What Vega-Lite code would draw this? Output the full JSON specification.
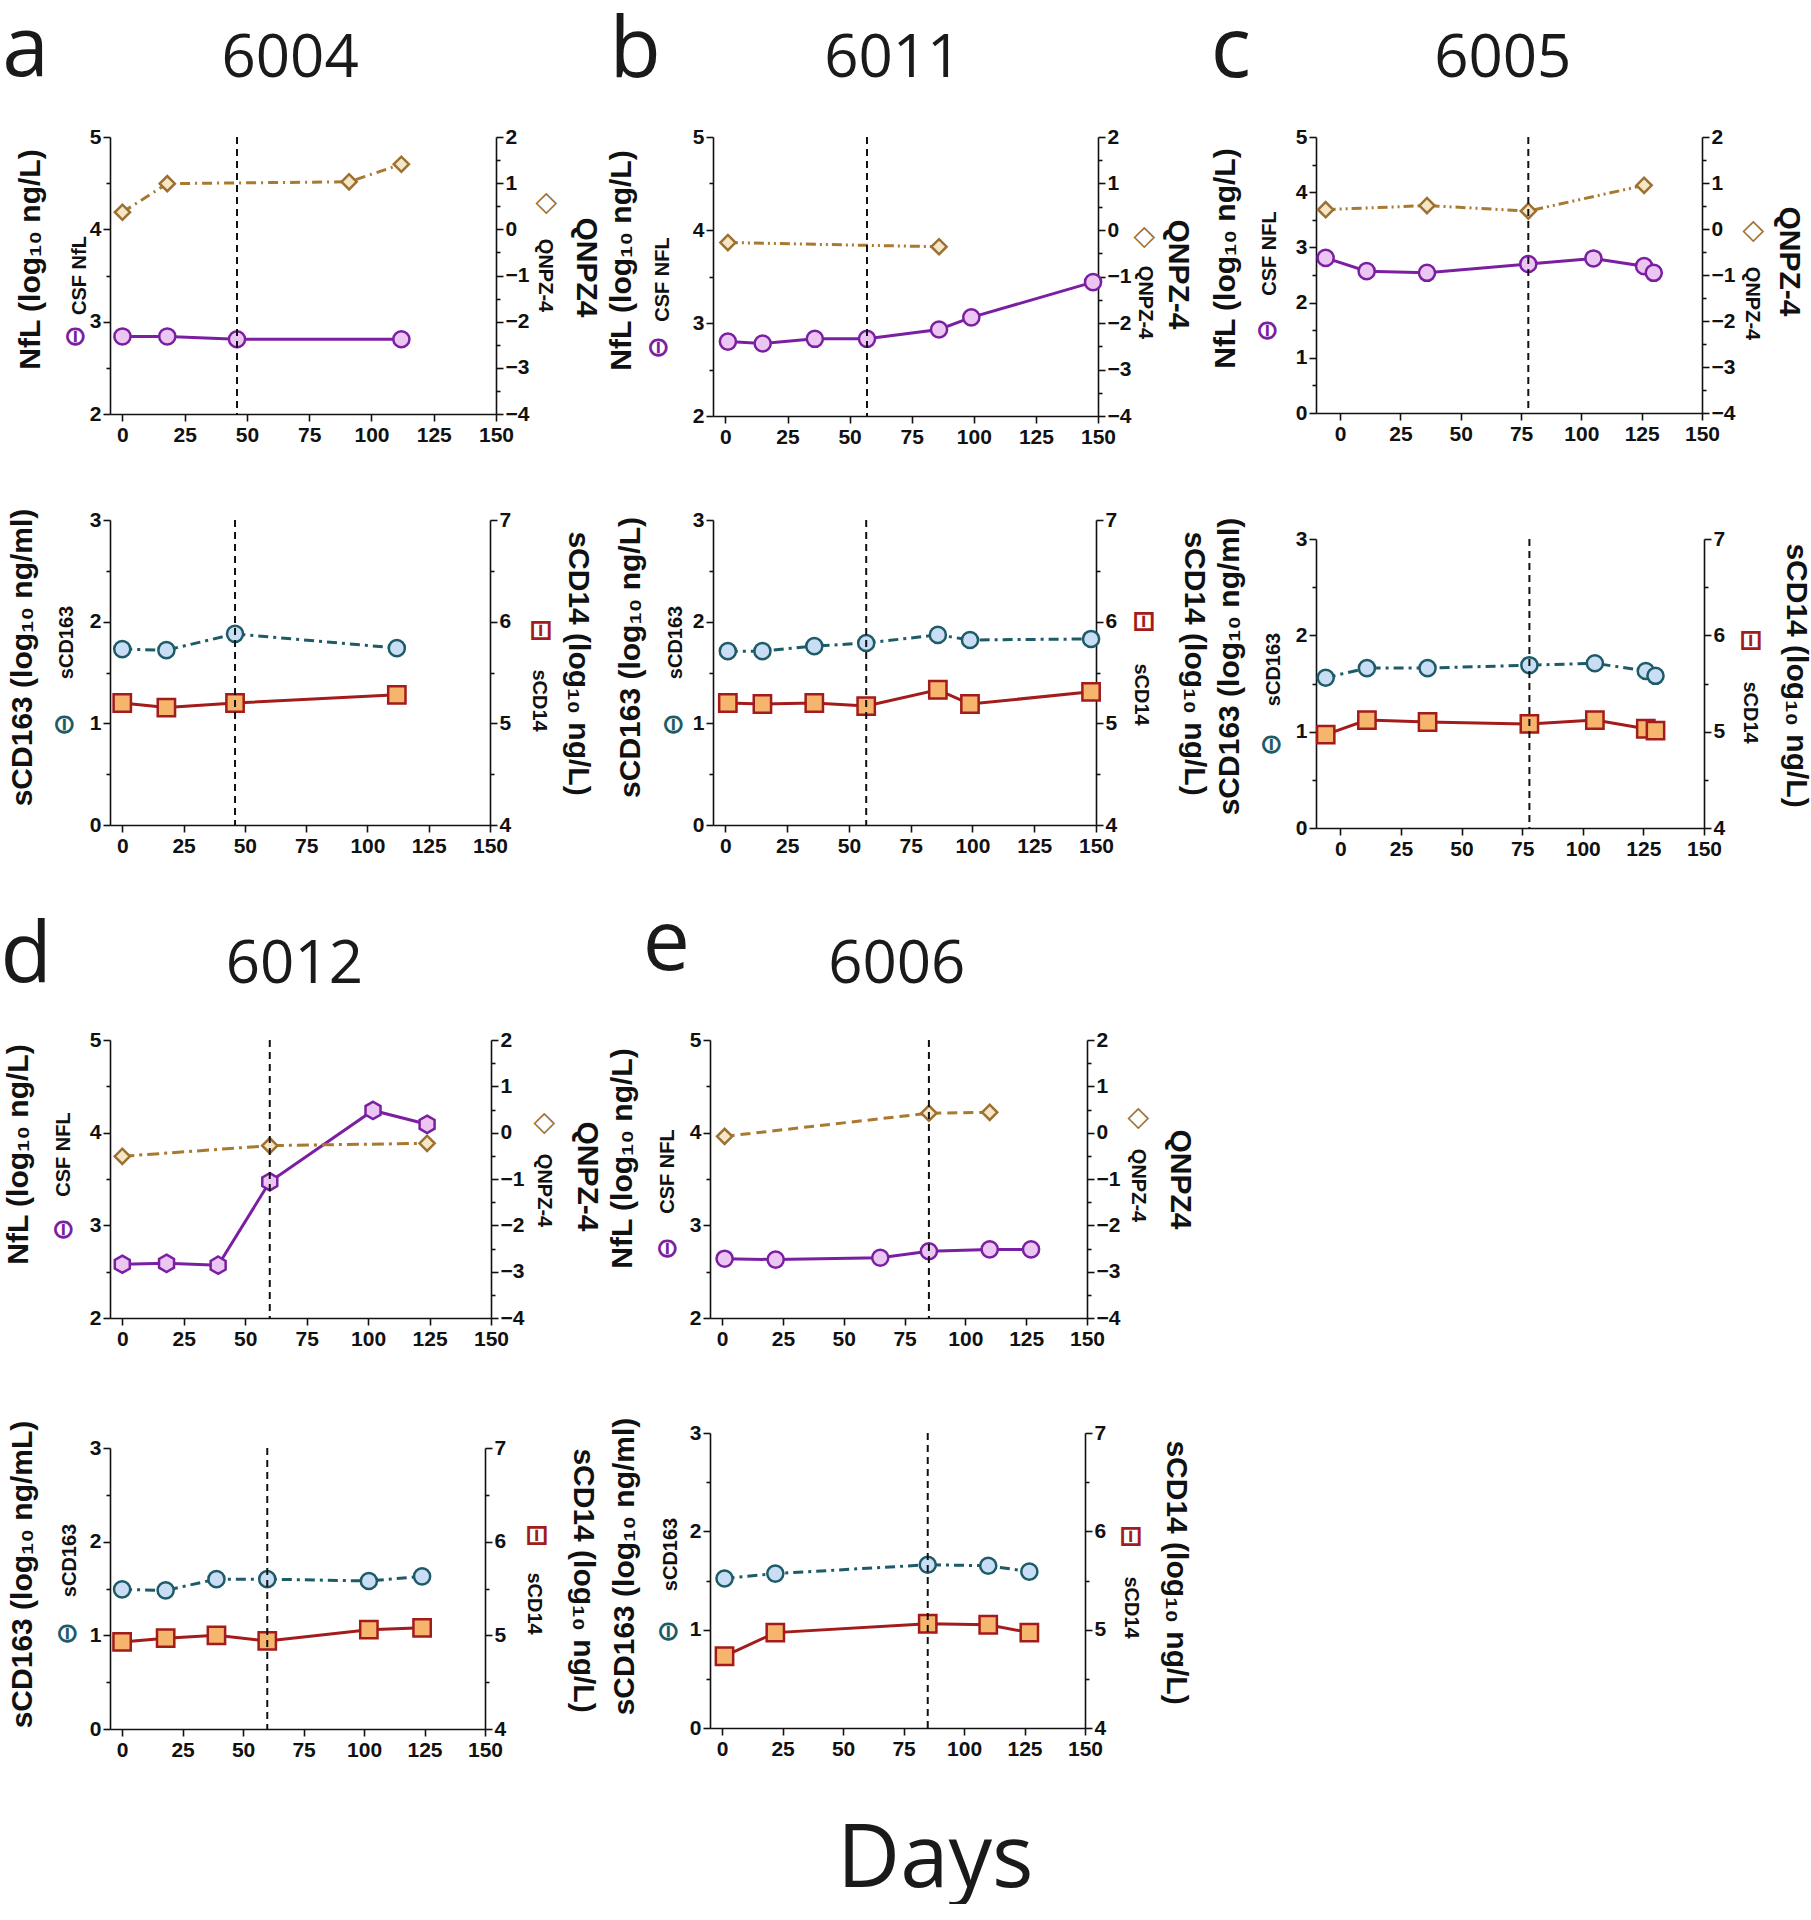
{
"$schema":"https://vega.github.io/schema/vega-lite/v6.json",
"background":"white",
"padding":{"left":0,"top":9,"right":0,"bottom":0},
"datasets":{
"pts":[
{"pid":"6004","m":"NfL","day":0,"v":2.84},{"pid":"6004","m":"NfL","day":18,"v":2.84},{"pid":"6004","m":"NfL","day":46,"v":2.81},{"pid":"6004","m":"NfL","day":112,"v":2.81},
{"pid":"6004","m":"QNPZ4","day":0,"v":0.37},{"pid":"6004","m":"QNPZ4","day":18,"v":0.99},{"pid":"6004","m":"QNPZ4","day":91,"v":1.03},{"pid":"6004","m":"QNPZ4","day":112,"v":1.41},
{"pid":"6004","m":"sCD163","day":0,"v":1.73},{"pid":"6004","m":"sCD163","day":18,"v":1.72},{"pid":"6004","m":"sCD163","day":46,"v":1.88},{"pid":"6004","m":"sCD163","day":112,"v":1.74},
{"pid":"6004","m":"sCD14","day":0,"v":5.2},{"pid":"6004","m":"sCD14","day":18,"v":5.155},{"pid":"6004","m":"sCD14","day":46,"v":5.2},{"pid":"6004","m":"sCD14","day":112,"v":5.28},
{"pid":"6011","m":"NfL","day":1,"v":2.8},{"pid":"6011","m":"NfL","day":15,"v":2.78},{"pid":"6011","m":"NfL","day":36,"v":2.83},{"pid":"6011","m":"NfL","day":57,"v":2.83},{"pid":"6011","m":"NfL","day":86,"v":2.93},{"pid":"6011","m":"NfL","day":99,"v":3.06},{"pid":"6011","m":"NfL","day":148,"v":3.44},
{"pid":"6011","m":"QNPZ4","day":1,"v":-0.27},{"pid":"6011","m":"QNPZ4","day":86,"v":-0.36},
{"pid":"6011","m":"sCD163","day":1,"v":1.71},{"pid":"6011","m":"sCD163","day":15,"v":1.71},{"pid":"6011","m":"sCD163","day":36,"v":1.76},{"pid":"6011","m":"sCD163","day":57,"v":1.79},{"pid":"6011","m":"sCD163","day":86,"v":1.87},{"pid":"6011","m":"sCD163","day":99,"v":1.82},{"pid":"6011","m":"sCD163","day":148,"v":1.83},
{"pid":"6011","m":"sCD14","day":1,"v":5.2},{"pid":"6011","m":"sCD14","day":15,"v":5.19},{"pid":"6011","m":"sCD14","day":36,"v":5.2},{"pid":"6011","m":"sCD14","day":57,"v":5.17},{"pid":"6011","m":"sCD14","day":86,"v":5.33},{"pid":"6011","m":"sCD14","day":99,"v":5.19},{"pid":"6011","m":"sCD14","day":148,"v":5.31},
{"pid":"6005","m":"NfL","day":-6,"v":2.81},{"pid":"6005","m":"NfL","day":11,"v":2.57},{"pid":"6005","m":"NfL","day":36,"v":2.54},{"pid":"6005","m":"NfL","day":78,"v":2.7},{"pid":"6005","m":"NfL","day":105,"v":2.8},{"pid":"6005","m":"NfL","day":126,"v":2.66},{"pid":"6005","m":"NfL","day":130,"v":2.54},
{"pid":"6005","m":"QNPZ4","day":-6,"v":0.42},{"pid":"6005","m":"QNPZ4","day":36,"v":0.51},{"pid":"6005","m":"QNPZ4","day":78,"v":0.39},{"pid":"6005","m":"QNPZ4","day":126,"v":0.95},
{"pid":"6005","m":"sCD163","day":-6,"v":1.56},{"pid":"6005","m":"sCD163","day":11,"v":1.66},{"pid":"6005","m":"sCD163","day":36,"v":1.66},{"pid":"6005","m":"sCD163","day":78,"v":1.69},{"pid":"6005","m":"sCD163","day":105,"v":1.71},{"pid":"6005","m":"sCD163","day":126,"v":1.63},{"pid":"6005","m":"sCD163","day":130,"v":1.58},
{"pid":"6005","m":"sCD14","day":-6,"v":4.97},{"pid":"6005","m":"sCD14","day":11,"v":5.12},{"pid":"6005","m":"sCD14","day":36,"v":5.1},{"pid":"6005","m":"sCD14","day":78,"v":5.08},{"pid":"6005","m":"sCD14","day":105,"v":5.12},{"pid":"6005","m":"sCD14","day":126,"v":5.03},{"pid":"6005","m":"sCD14","day":130,"v":5.01},
{"pid":"6012","m":"NfL","day":0,"v":2.58},{"pid":"6012","m":"NfL","day":18,"v":2.59},{"pid":"6012","m":"NfL","day":39,"v":2.57},{"pid":"6012","m":"NfL","day":60,"v":3.47},{"pid":"6012","m":"NfL","day":102,"v":4.24},{"pid":"6012","m":"NfL","day":124,"v":4.09},
{"pid":"6012","m":"QNPZ4","day":0,"v":-0.51},{"pid":"6012","m":"QNPZ4","day":60,"v":-0.28},{"pid":"6012","m":"QNPZ4","day":124,"v":-0.23},
{"pid":"6012","m":"sCD163","day":0,"v":1.49},{"pid":"6012","m":"sCD163","day":18,"v":1.48},{"pid":"6012","m":"sCD163","day":39,"v":1.6},{"pid":"6012","m":"sCD163","day":60,"v":1.6},{"pid":"6012","m":"sCD163","day":102,"v":1.58},{"pid":"6012","m":"sCD163","day":124,"v":1.63},
{"pid":"6012","m":"sCD14","day":0,"v":4.93},{"pid":"6012","m":"sCD14","day":18,"v":4.97},{"pid":"6012","m":"sCD14","day":39,"v":5.0},{"pid":"6012","m":"sCD14","day":60,"v":4.94},{"pid":"6012","m":"sCD14","day":102,"v":5.06},{"pid":"6012","m":"sCD14","day":124,"v":5.08},
{"pid":"6006","m":"NfL","day":1,"v":2.64},{"pid":"6006","m":"NfL","day":22,"v":2.63},{"pid":"6006","m":"NfL","day":65,"v":2.65},{"pid":"6006","m":"NfL","day":85,"v":2.72},{"pid":"6006","m":"NfL","day":110,"v":2.74},{"pid":"6006","m":"NfL","day":127,"v":2.74},
{"pid":"6006","m":"QNPZ4","day":1,"v":-0.08},{"pid":"6006","m":"QNPZ4","day":85,"v":0.42},{"pid":"6006","m":"QNPZ4","day":110,"v":0.44},
{"pid":"6006","m":"sCD163","day":1,"v":1.52},{"pid":"6006","m":"sCD163","day":22,"v":1.57},{"pid":"6006","m":"sCD163","day":85,"v":1.66},{"pid":"6006","m":"sCD163","day":110,"v":1.65},{"pid":"6006","m":"sCD163","day":127,"v":1.59},
{"pid":"6006","m":"sCD14","day":1,"v":4.73},{"pid":"6006","m":"sCD14","day":22,"v":4.97},{"pid":"6006","m":"sCD14","day":85,"v":5.06},{"pid":"6006","m":"sCD14","day":110,"v":5.05},{"pid":"6006","m":"sCD14","day":127,"v":4.97}
],
"ev":[{"pid":"6004","day":46},{"pid":"6011","day":57},{"pid":"6005","day":78},{"pid":"6012","day":60},{"pid":"6006","day":85}]
},
"title":{"text":"Days","orient":"bottom","anchor":"middle","frame":"bounds","offset":127,"dx":30,"baseline":"alphabetic","font":"Open Sans","fontSize":87,"fontWeight":"normal","color":"#1a1a1a"},
"bounds":"flush",
"spacing":903,
"vconcat":[
{"hconcat":[
{"title":{"text":"6004","orient":"left","anchor":"end","frame":"group","angle":0,"align":"center","baseline":"alphabetic","offset":-425,"dy":-60,"font":"Open Sans","fontSize":60,"fontWeight":"normal","color":"#1a1a1a"},
 "bounds":"flush","spacing":106,
 "vconcat":[
 {"width":386,"height":277,
  "title":{"text":"a","orient":"left","anchor":"end","frame":"group","angle":0,"align":"left","baseline":"alphabetic","offset":-34,"dy":-61,"font":"Open Sans","fontSize":84,"fontWeight":"normal","color":"#1a1a1a"},
  "encoding":{"x":{"field":"day","type":"quantitative","scale":{"domain":[-5,150],"nice":false,"zero":false},"axis":{"values":[0,25,50,75,100,125,150],"title":null}}},
  "layer":[
   {"data":{"name":"pts"},"transform":[{"filter":"datum.pid==='6004'&&datum.m==='NfL'"}],
    "mark":{"type":"line","color":"#7B1FA2","strokeWidth":3,"point":{"filled":true,"shape":"circle","size":260,"fill":"#EBC6F3","stroke":"#7B1FA2","strokeWidth":2.5}},
    "encoding":{"y":{"field":"v","type":"quantitative","scale":{"domain":[2,5],"nice":false,"zero":false},"axis":{"orient":"left","values":[2,2.5,3,3.5,4,4.5,5],"labelExpr":"datum.value % 1 === 0 ? format(datum.value, 'd') : ''","tickSize":{"condition":{"test":"datum.value % 1 !== 0","value":4},"value":7},"title":"⊖","titleColor":"#7B1FA2","titleFont":"DejaVu Sans","titleFontWeight":"bold","titleFontSize":28,"titleY":199,"titlePadding":0}}}},
   {"data":{"name":"pts"},"transform":[{"filter":"datum.pid==='6004'&&datum.m==='QNPZ4'"}],
    "mark":{"type":"line","color":"#A8792E","strokeWidth":3,"strokeDash":[10,5,2,5],"point":{"filled":true,"shape":"diamond","size":230,"fill":"#F4E6C6","stroke":"#9C7030","strokeWidth":2.5}},
    "encoding":{"y":{"field":"v","type":"quantitative","scale":{"domain":[-4,2],"nice":false,"zero":false},"axis":{"orient":"right","values":[-4,-3.5,-3,-2.5,-2,-1.5,-1,-0.5,0,0.5,1,1.5,2],"labelExpr":"datum.value % 1 === 0 ? format(datum.value, 'd') : ''","tickSize":{"condition":{"test":"datum.value % 1 !== 0","value":4},"value":7},"title":"◇","titleColor":"#9C7030","titleFont":"DejaVu Sans","titleFontWeight":"bold","titleFontSize":28,"titleY":66,"titlePadding":4}}}},
   {"data":{"name":"ev"},"transform":[{"filter":"datum.pid==='6004'"}],"mark":{"type":"rule","color":"#111111","strokeWidth":2,"strokeDash":[7,5]},"encoding":{}},
   {"data":{"values":[{}]},"mark":{"type":"point","opacity":0},"encoding":{"y":{"datum":3,"type":"quantitative","scale":{"domain":[2,5]},"axis":{"orient":"left","domain":false,"ticks":false,"labels":false,"title":"NfL (log₁₀ ng/L)","titleFontSize":30,"titleY":122,"titlePadding":65}}}},
   {"data":{"values":[{}]},"mark":{"type":"point","opacity":0},"encoding":{"y":{"datum":3,"type":"quantitative","scale":{"domain":[2,5]},"axis":{"orient":"left","domain":false,"ticks":false,"labels":false,"title":"CSF NfL","titleFontSize":20,"titleY":138,"titlePadding":21}}}},
   {"data":{"values":[{}]},"mark":{"type":"point","opacity":0},"encoding":{"y":{"datum":0,"type":"quantitative","scale":{"domain":[-4,2]},"axis":{"orient":"right","domain":false,"ticks":false,"labels":false,"title":"QNPZ-4","titleFontSize":20,"titleY":138,"titlePadding":38}}}},
   {"data":{"values":[{}]},"mark":{"type":"point","opacity":0},"encoding":{"y":{"datum":0,"type":"quantitative","scale":{"domain":[-4,2]},"axis":{"orient":"right","domain":false,"ticks":false,"labels":false,"title":"QNPZ4","titleFontSize":30,"titleY":130,"titlePadding":74}}}}
  ],
  "resolve":{"scale":{"y":"independent"}}},
 {"width":380,"height":305,
  "encoding":{"x":{"field":"day","type":"quantitative","scale":{"domain":[-5,150],"nice":false,"zero":false},"axis":{"values":[0,25,50,75,100,125,150],"title":null}}},
  "layer":[
   {"data":{"name":"pts"},"transform":[{"filter":"datum.pid==='6004'&&datum.m==='sCD163'"}],
    "mark":{"type":"line","color":"#1D5B68","strokeWidth":3,"strokeDash":[10,5,3,5],"point":{"filled":true,"shape":"circle","size":260,"fill":"#C9DEF4","stroke":"#1D5B68","strokeWidth":2.5}},
    "encoding":{"y":{"field":"v","type":"quantitative","scale":{"domain":[0,3],"nice":false,"zero":false},"axis":{"orient":"left","values":[0,0.5,1,1.5,2,2.5,3],"labelExpr":"datum.value % 1 === 0 ? format(datum.value, 'd') : ''","tickSize":{"condition":{"test":"datum.value % 1 !== 0","value":4},"value":7},"title":"⊖","titleColor":"#1D5B68","titleFont":"DejaVu Sans","titleFontWeight":"bold","titleFontSize":28,"titleY":204,"titlePadding":11}}}},
   {"data":{"name":"pts"},"transform":[{"filter":"datum.pid==='6004'&&datum.m==='sCD14'"}],
    "mark":{"type":"line","color":"#A31B1B","strokeWidth":3,"point":{"filled":true,"shape":"square","size":300,"fill":"#F5B56C","stroke":"#A31B1B","strokeWidth":2.5}},
    "encoding":{"y":{"field":"v","type":"quantitative","scale":{"domain":[4,7],"nice":false,"zero":false},"axis":{"orient":"right","values":[4,4.5,5,5.5,6,6.5,7],"labelExpr":"datum.value % 1 === 0 ? format(datum.value, 'd') : ''","tickSize":{"condition":{"test":"datum.value % 1 !== 0","value":4},"value":7},"title":"⊟","titleColor":"#A31B1B","titleFont":"DejaVu Sans","titleFontWeight":"bold","titleFontSize":28,"titleY":110,"titlePadding":15}}}},
   {"data":{"name":"ev"},"transform":[{"filter":"datum.pid==='6004'"}],"mark":{"type":"rule","color":"#111111","strokeWidth":2,"strokeDash":[7,5]},"encoding":{}},
   {"data":{"values":[{}]},"mark":{"type":"point","opacity":0},"encoding":{"y":{"datum":1,"type":"quantitative","scale":{"domain":[0,3]},"axis":{"orient":"left","domain":false,"ticks":false,"labels":false,"title":"sCD163 (log₁₀ ng/ml)","titleFontSize":30,"titleY":137,"titlePadding":73}}}},
   {"data":{"values":[{}]},"mark":{"type":"point","opacity":0},"encoding":{"y":{"datum":1,"type":"quantitative","scale":{"domain":[0,3]},"axis":{"orient":"left","domain":false,"ticks":false,"labels":false,"title":"sCD163","titleFontSize":20,"titleY":122,"titlePadding":34}}}},
   {"data":{"values":[{}]},"mark":{"type":"point","opacity":0},"encoding":{"y":{"datum":5,"type":"quantitative","scale":{"domain":[4,7]},"axis":{"orient":"right","domain":false,"ticks":false,"labels":false,"title":"sCD14","titleFontSize":20,"titleY":180,"titlePadding":38}}}},
   {"data":{"values":[{}]},"mark":{"type":"point","opacity":0},"encoding":{"y":{"datum":5,"type":"quantitative","scale":{"domain":[4,7]},"axis":{"orient":"right","domain":false,"ticks":false,"labels":false,"title":"sCD14 (log₁₀ ng/L)","titleFontSize":30,"titleY":143,"titlePadding":72}}}}
  ],
  "resolve":{"scale":{"y":"independent"}}}
 ]},
{"title":{"text":"6011","orient":"left","anchor":"end","frame":"group","angle":0,"align":"center","baseline":"alphabetic","offset":-424,"dy":-60,"font":"Open Sans","fontSize":60,"fontWeight":"normal","color":"#1a1a1a"},
 "bounds":"flush","spacing":104,
 "vconcat":[
 {"width":385,"height":279,
  "title":{"text":"b","orient":"left","anchor":"end","frame":"group","angle":0,"align":"left","baseline":"alphabetic","offset":-55,"dy":-60,"font":"Open Sans","fontSize":84,"fontWeight":"normal","color":"#1a1a1a"},
  "encoding":{"x":{"field":"day","type":"quantitative","scale":{"domain":[-5,150],"nice":false,"zero":false},"axis":{"values":[0,25,50,75,100,125,150],"title":null}}},
  "layer":[
   {"data":{"name":"pts"},"transform":[{"filter":"datum.pid==='6011'&&datum.m==='NfL'"}],
    "mark":{"type":"line","color":"#7B1FA2","strokeWidth":3,"point":{"filled":true,"shape":"circle","size":260,"fill":"#EBC6F3","stroke":"#7B1FA2","strokeWidth":2.5}},
    "encoding":{"y":{"field":"v","type":"quantitative","scale":{"domain":[2,5],"nice":false,"zero":false},"axis":{"orient":"left","values":[2,2.5,3,3.5,4,4.5,5],"labelExpr":"datum.value % 1 === 0 ? format(datum.value, 'd') : ''","tickSize":{"condition":{"test":"datum.value % 1 !== 0","value":4},"value":7},"title":"⊖","titleColor":"#7B1FA2","titleFont":"DejaVu Sans","titleFontWeight":"bold","titleFontSize":28,"titleY":210,"titlePadding":20}}}},
   {"data":{"name":"pts"},"transform":[{"filter":"datum.pid==='6011'&&datum.m==='QNPZ4'"}],
    "mark":{"type":"line","color":"#A8792E","strokeWidth":3,"strokeDash":[10,4,2,4,2,4],"point":{"filled":true,"shape":"diamond","size":230,"fill":"#F4E6C6","stroke":"#9C7030","strokeWidth":2.5}},
    "encoding":{"y":{"field":"v","type":"quantitative","scale":{"domain":[-4,2],"nice":false,"zero":false},"axis":{"orient":"right","values":[-4,-3.5,-3,-2.5,-2,-1.5,-1,-0.5,0,0.5,1,1.5,2],"labelExpr":"datum.value % 1 === 0 ? format(datum.value, 'd') : ''","tickSize":{"condition":{"test":"datum.value % 1 !== 0","value":4},"value":7},"title":"◇","titleColor":"#9C7030","titleFont":"DejaVu Sans","titleFontWeight":"bold","titleFontSize":28,"titleY":100,"titlePadding":0}}}},
   {"data":{"name":"ev"},"transform":[{"filter":"datum.pid==='6011'"}],"mark":{"type":"rule","color":"#111111","strokeWidth":2,"strokeDash":[7,5]},"encoding":{}},
   {"data":{"values":[{}]},"mark":{"type":"point","opacity":0},"encoding":{"y":{"datum":3,"type":"quantitative","scale":{"domain":[2,5]},"axis":{"orient":"left","domain":false,"ticks":false,"labels":false,"title":"NfL (log₁₀ ng/L)","titleFontSize":30,"titleY":123,"titlePadding":77}}}},
   {"data":{"values":[{}]},"mark":{"type":"point","opacity":0},"encoding":{"y":{"datum":3,"type":"quantitative","scale":{"domain":[2,5]},"axis":{"orient":"left","domain":false,"ticks":false,"labels":false,"title":"CSF NFL","titleFontSize":20,"titleY":142,"titlePadding":41}}}},
   {"data":{"values":[{}]},"mark":{"type":"point","opacity":0},"encoding":{"y":{"datum":0,"type":"quantitative","scale":{"domain":[-4,2]},"axis":{"orient":"right","domain":false,"ticks":false,"labels":false,"title":"QNPZ-4","titleFontSize":20,"titleY":165,"titlePadding":36}}}},
   {"data":{"values":[{}]},"mark":{"type":"point","opacity":0},"encoding":{"y":{"datum":0,"type":"quantitative","scale":{"domain":[-4,2]},"axis":{"orient":"right","domain":false,"ticks":false,"labels":false,"title":"QNPZ-4","titleFontSize":30,"titleY":137,"titlePadding":64}}}}
  ],
  "resolve":{"scale":{"y":"independent"}}},
 {"width":383,"height":305,
  "encoding":{"x":{"field":"day","type":"quantitative","scale":{"domain":[-5,150],"nice":false,"zero":false},"axis":{"values":[0,25,50,75,100,125,150],"title":null}}},
  "layer":[
   {"data":{"name":"pts"},"transform":[{"filter":"datum.pid==='6011'&&datum.m==='sCD163'"}],
    "mark":{"type":"line","color":"#1D5B68","strokeWidth":3,"strokeDash":[10,5,3,5],"point":{"filled":true,"shape":"circle","size":260,"fill":"#C9DEF4","stroke":"#1D5B68","strokeWidth":2.5}},
    "encoding":{"y":{"field":"v","type":"quantitative","scale":{"domain":[0,3],"nice":false,"zero":false},"axis":{"orient":"left","values":[0,0.5,1,1.5,2,2.5,3],"labelExpr":"datum.value % 1 === 0 ? format(datum.value, 'd') : ''","tickSize":{"condition":{"test":"datum.value % 1 !== 0","value":4},"value":7},"title":"⊖","titleColor":"#1D5B68","titleFont":"DejaVu Sans","titleFontWeight":"bold","titleFontSize":28,"titleY":204,"titlePadding":5}}}},
   {"data":{"name":"pts"},"transform":[{"filter":"datum.pid==='6011'&&datum.m==='sCD14'"}],
    "mark":{"type":"line","color":"#A31B1B","strokeWidth":3,"point":{"filled":true,"shape":"square","size":300,"fill":"#F5B56C","stroke":"#A31B1B","strokeWidth":2.5}},
    "encoding":{"y":{"field":"v","type":"quantitative","scale":{"domain":[4,7],"nice":false,"zero":false},"axis":{"orient":"right","values":[4,4.5,5,5.5,6,6.5,7],"labelExpr":"datum.value % 1 === 0 ? format(datum.value, 'd') : ''","tickSize":{"condition":{"test":"datum.value % 1 !== 0","value":4},"value":7},"title":"⊟","titleColor":"#A31B1B","titleFont":"DejaVu Sans","titleFontWeight":"bold","titleFontSize":28,"titleY":101,"titlePadding":12}}}},
   {"data":{"name":"ev"},"transform":[{"filter":"datum.pid==='6011'"}],"mark":{"type":"rule","color":"#111111","strokeWidth":2,"strokeDash":[7,5]},"encoding":{}},
   {"data":{"values":[{}]},"mark":{"type":"point","opacity":0},"encoding":{"y":{"datum":1,"type":"quantitative","scale":{"domain":[0,3]},"axis":{"orient":"left","domain":false,"ticks":false,"labels":false,"title":"sCD163 (log₁₀ ng/L)","titleFontSize":30,"titleY":137,"titlePadding":68}}}},
   {"data":{"values":[{}]},"mark":{"type":"point","opacity":0},"encoding":{"y":{"datum":1,"type":"quantitative","scale":{"domain":[0,3]},"axis":{"orient":"left","domain":false,"ticks":false,"labels":false,"title":"sCD163","titleFontSize":20,"titleY":122,"titlePadding":28}}}},
   {"data":{"values":[{}]},"mark":{"type":"point","opacity":0},"encoding":{"y":{"datum":5,"type":"quantitative","scale":{"domain":[4,7]},"axis":{"orient":"right","domain":false,"ticks":false,"labels":false,"title":"sCD14","titleFontSize":20,"titleY":174,"titlePadding":34}}}},
   {"data":{"values":[{}]},"mark":{"type":"point","opacity":0},"encoding":{"y":{"datum":5,"type":"quantitative","scale":{"domain":[4,7]},"axis":{"orient":"right","domain":false,"ticks":false,"labels":false,"title":"sCD14 (log₁₀ ng/L)","titleFontSize":30,"titleY":143,"titlePadding":82}}}}
  ],
  "resolve":{"scale":{"y":"independent"}}}
 ]},
{"title":{"text":"6005","orient":"left","anchor":"end","frame":"group","angle":0,"align":"center","baseline":"alphabetic","offset":-430,"dy":-60,"font":"Open Sans","fontSize":60,"fontWeight":"normal","color":"#1a1a1a"},
 "bounds":"flush","spacing":126,
 "vconcat":[
 {"width":386,"height":276,
  "title":{"text":"c","orient":"left","anchor":"end","frame":"group","angle":0,"align":"left","baseline":"alphabetic","offset":-41,"dy":-60,"font":"Open Sans","fontSize":84,"fontWeight":"normal","color":"#1a1a1a"},
  "encoding":{"x":{"field":"day","type":"quantitative","scale":{"domain":[-10,150],"nice":false,"zero":false},"axis":{"values":[0,25,50,75,100,125,150],"title":null}}},
  "layer":[
   {"data":{"name":"pts"},"transform":[{"filter":"datum.pid==='6005'&&datum.m==='NfL'"}],
    "mark":{"type":"line","color":"#7B1FA2","strokeWidth":3,"point":{"filled":true,"shape":"circle","size":260,"fill":"#EBC6F3","stroke":"#7B1FA2","strokeWidth":2.5}},
    "encoding":{"y":{"field":"v","type":"quantitative","scale":{"domain":[0,5],"nice":false,"zero":false},"axis":{"orient":"left","values":[0,0.5,1,1.5,2,2.5,3,3.5,4,4.5,5],"labelExpr":"datum.value % 1 === 0 ? format(datum.value, 'd') : ''","tickSize":{"condition":{"test":"datum.value % 1 !== 0","value":4},"value":7},"title":"⊖","titleColor":"#7B1FA2","titleFont":"DejaVu Sans","titleFontWeight":"bold","titleFontSize":28,"titleY":193,"titlePadding":14}}}},
   {"data":{"name":"pts"},"transform":[{"filter":"datum.pid==='6005'&&datum.m==='QNPZ4'"}],
    "mark":{"type":"line","color":"#A8792E","strokeWidth":3,"strokeDash":[10,4,2,4,2,4],"point":{"filled":true,"shape":"diamond","size":230,"fill":"#F4E6C6","stroke":"#9C7030","strokeWidth":2.5}},
    "encoding":{"y":{"field":"v","type":"quantitative","scale":{"domain":[-4,2],"nice":false,"zero":false},"axis":{"orient":"right","values":[-4,-3.5,-3,-2.5,-2,-1.5,-1,-0.5,0,0.5,1,1.5,2],"labelExpr":"datum.value % 1 === 0 ? format(datum.value, 'd') : ''","tickSize":{"condition":{"test":"datum.value % 1 !== 0","value":4},"value":7},"title":"◇","titleColor":"#9C7030","titleFont":"DejaVu Sans","titleFontWeight":"bold","titleFontSize":28,"titleY":94,"titlePadding":5}}}},
   {"data":{"name":"ev"},"transform":[{"filter":"datum.pid==='6005'"}],"mark":{"type":"rule","color":"#111111","strokeWidth":2,"strokeDash":[7,5]},"encoding":{}},
   {"data":{"values":[{}]},"mark":{"type":"point","opacity":0},"encoding":{"y":{"datum":3,"type":"quantitative","scale":{"domain":[0,5]},"axis":{"orient":"left","domain":false,"ticks":false,"labels":false,"title":"NfL (log₁₀ ng/L)","titleFontSize":30,"titleY":121,"titlePadding":76}}}},
   {"data":{"values":[{}]},"mark":{"type":"point","opacity":0},"encoding":{"y":{"datum":3,"type":"quantitative","scale":{"domain":[0,5]},"axis":{"orient":"left","domain":false,"ticks":false,"labels":false,"title":"CSF NFL","titleFontSize":20,"titleY":116,"titlePadding":37}}}},
   {"data":{"values":[{}]},"mark":{"type":"point","opacity":0},"encoding":{"y":{"datum":0,"type":"quantitative","scale":{"domain":[-4,2]},"axis":{"orient":"right","domain":false,"ticks":false,"labels":false,"title":"QNPZ-4","titleFontSize":20,"titleY":166,"titlePadding":39}}}},
   {"data":{"values":[{}]},"mark":{"type":"point","opacity":0},"encoding":{"y":{"datum":0,"type":"quantitative","scale":{"domain":[-4,2]},"axis":{"orient":"right","domain":false,"ticks":false,"labels":false,"title":"QNPZ-4","titleFontSize":30,"titleY":124,"titlePadding":71}}}}
  ],
  "resolve":{"scale":{"y":"independent"}}},
 {"width":388,"height":289,
  "encoding":{"x":{"field":"day","type":"quantitative","scale":{"domain":[-10,150],"nice":false,"zero":false},"axis":{"values":[0,25,50,75,100,125,150],"title":null}}},
  "layer":[
   {"data":{"name":"pts"},"transform":[{"filter":"datum.pid==='6005'&&datum.m==='sCD163'"}],
    "mark":{"type":"line","color":"#1D5B68","strokeWidth":3,"strokeDash":[10,5,3,5],"point":{"filled":true,"shape":"circle","size":260,"fill":"#C9DEF4","stroke":"#1D5B68","strokeWidth":2.5}},
    "encoding":{"y":{"field":"v","type":"quantitative","scale":{"domain":[0,3],"nice":false,"zero":false},"axis":{"orient":"left","values":[0,0.5,1,1.5,2,2.5,3],"labelExpr":"datum.value % 1 === 0 ? format(datum.value, 'd') : ''","tickSize":{"condition":{"test":"datum.value % 1 !== 0","value":4},"value":7},"title":"⊖","titleColor":"#1D5B68","titleFont":"DejaVu Sans","titleFontWeight":"bold","titleFontSize":28,"titleY":205,"titlePadding":10}}}},
   {"data":{"name":"pts"},"transform":[{"filter":"datum.pid==='6005'&&datum.m==='sCD14'"}],
    "mark":{"type":"line","color":"#A31B1B","strokeWidth":3,"point":{"filled":true,"shape":"square","size":300,"fill":"#F5B56C","stroke":"#A31B1B","strokeWidth":2.5}},
    "encoding":{"y":{"field":"v","type":"quantitative","scale":{"domain":[4,7],"nice":false,"zero":false},"axis":{"orient":"right","values":[4,4.5,5,5.5,6,6.5,7],"labelExpr":"datum.value % 1 === 0 ? format(datum.value, 'd') : ''","tickSize":{"condition":{"test":"datum.value % 1 !== 0","value":4},"value":7},"title":"⊟","titleColor":"#A31B1B","titleFont":"DejaVu Sans","titleFontWeight":"bold","titleFontSize":28,"titleY":101,"titlePadding":11}}}},
   {"data":{"name":"ev"},"transform":[{"filter":"datum.pid==='6005'"}],"mark":{"type":"rule","color":"#111111","strokeWidth":2,"strokeDash":[7,5]},"encoding":{}},
   {"data":{"values":[{}]},"mark":{"type":"point","opacity":0},"encoding":{"y":{"datum":1,"type":"quantitative","scale":{"domain":[0,3]},"axis":{"orient":"left","domain":false,"ticks":false,"labels":false,"title":"sCD163 (log₁₀ ng/ml)","titleFontSize":30,"titleY":127,"titlePadding":72}}}},
   {"data":{"values":[{}]},"mark":{"type":"point","opacity":0},"encoding":{"y":{"datum":1,"type":"quantitative","scale":{"domain":[0,3]},"axis":{"orient":"left","domain":false,"ticks":false,"labels":false,"title":"sCD163","titleFontSize":20,"titleY":130,"titlePadding":33}}}},
   {"data":{"values":[{}]},"mark":{"type":"point","opacity":0},"encoding":{"y":{"datum":5,"type":"quantitative","scale":{"domain":[4,7]},"axis":{"orient":"right","domain":false,"ticks":false,"labels":false,"title":"sCD14","titleFontSize":20,"titleY":173,"titlePadding":35}}}},
   {"data":{"values":[{}]},"mark":{"type":"point","opacity":0},"encoding":{"y":{"datum":5,"type":"quantitative","scale":{"domain":[4,7]},"axis":{"orient":"right","domain":false,"ticks":false,"labels":false,"title":"sCD14 (log₁₀ ng/L)","titleFontSize":30,"titleY":136,"titlePadding":76}}}}
  ],
  "resolve":{"scale":{"y":"independent"}}}
 ]}
],"spacing":603,"bounds":"flush"},
{"hconcat":[
{"title":{"text":"6012","orient":"left","anchor":"end","frame":"group","angle":0,"align":"center","baseline":"alphabetic","offset":-431,"dy":-57,"font":"Open Sans","fontSize":60,"fontWeight":"normal","color":"#1a1a1a"},
 "bounds":"flush","spacing":130,
 "vconcat":[
 {"width":381,"height":278,
  "title":{"text":"d","orient":"left","anchor":"end","frame":"group","angle":0,"align":"left","baseline":"alphabetic","offset":-49,"dy":-58,"font":"Open Sans","fontSize":84,"fontWeight":"normal","color":"#1a1a1a"},
  "encoding":{"x":{"field":"day","type":"quantitative","scale":{"domain":[-5,150],"nice":false,"zero":false},"axis":{"values":[0,25,50,75,100,125,150],"title":null}}},
  "layer":[
   {"data":{"name":"pts"},"transform":[{"filter":"datum.pid==='6012'&&datum.m==='NfL'"}],
    "mark":{"type":"line","color":"#7B1FA2","strokeWidth":3,"point":{"filled":true,"shape":"M0,-1L0.866,-0.5L0.866,0.5L0,1L-0.866,0.5L-0.866,-0.5Z","size":300,"fill":"#EBC6F3","stroke":"#7B1FA2","strokeWidth":2.5}},
    "encoding":{"y":{"field":"v","type":"quantitative","scale":{"domain":[2,5],"nice":false,"zero":false},"axis":{"orient":"left","values":[2,2.5,3,3.5,4,4.5,5],"labelExpr":"datum.value % 1 === 0 ? format(datum.value, 'd') : ''","tickSize":{"condition":{"test":"datum.value % 1 !== 0","value":4},"value":7},"title":"⊖","titleColor":"#7B1FA2","titleFont":"DejaVu Sans","titleFontWeight":"bold","titleFontSize":28,"titleY":189,"titlePadding":12}}}},
   {"data":{"name":"pts"},"transform":[{"filter":"datum.pid==='6012'&&datum.m==='QNPZ4'"}],
    "mark":{"type":"line","color":"#A8792E","strokeWidth":3,"strokeDash":[12,5,3,5],"point":{"filled":true,"shape":"diamond","size":230,"fill":"#F4E6C6","stroke":"#9C7030","strokeWidth":2.5}},
    "encoding":{"y":{"field":"v","type":"quantitative","scale":{"domain":[-4,2],"nice":false,"zero":false},"axis":{"orient":"right","values":[-4,-3.5,-3,-2.5,-2,-1.5,-1,-0.5,0,0.5,1,1.5,2],"labelExpr":"datum.value % 1 === 0 ? format(datum.value, 'd') : ''","tickSize":{"condition":{"test":"datum.value % 1 !== 0","value":4},"value":7},"title":"◇","titleColor":"#9C7030","titleFont":"DejaVu Sans","titleFontWeight":"bold","titleFontSize":28,"titleY":83,"titlePadding":7}}}},
   {"data":{"name":"ev"},"transform":[{"filter":"datum.pid==='6012'"}],"mark":{"type":"rule","color":"#111111","strokeWidth":2,"strokeDash":[7,5]},"encoding":{}},
   {"data":{"values":[{}]},"mark":{"type":"point","opacity":0},"encoding":{"y":{"datum":3,"type":"quantitative","scale":{"domain":[2,5]},"axis":{"orient":"left","domain":false,"ticks":false,"labels":false,"title":"NfL (log₁₀ ng/L)","titleFontSize":30,"titleY":114,"titlePadding":77}}}},
   {"data":{"values":[{}]},"mark":{"type":"point","opacity":0},"encoding":{"y":{"datum":3,"type":"quantitative","scale":{"domain":[2,5]},"axis":{"orient":"left","domain":false,"ticks":false,"labels":false,"title":"CSF NFL","titleFontSize":20,"titleY":114,"titlePadding":37}}}},
   {"data":{"values":[{}]},"mark":{"type":"point","opacity":0},"encoding":{"y":{"datum":0,"type":"quantitative","scale":{"domain":[-4,2]},"axis":{"orient":"right","domain":false,"ticks":false,"labels":false,"title":"QNPZ-4","titleFontSize":20,"titleY":150,"titlePadding":42}}}},
   {"data":{"values":[{}]},"mark":{"type":"point","opacity":0},"encoding":{"y":{"datum":0,"type":"quantitative","scale":{"domain":[-4,2]},"axis":{"orient":"right","domain":false,"ticks":false,"labels":false,"title":"QNPZ-4","titleFontSize":30,"titleY":136,"titlePadding":80}}}}
  ],
  "resolve":{"scale":{"y":"independent"}}},
 {"width":375,"height":281,
  "encoding":{"x":{"field":"day","type":"quantitative","scale":{"domain":[-5,150],"nice":false,"zero":false},"axis":{"values":[0,25,50,75,100,125,150],"title":null}}},
  "layer":[
   {"data":{"name":"pts"},"transform":[{"filter":"datum.pid==='6012'&&datum.m==='sCD163'"}],
    "mark":{"type":"line","color":"#1D5B68","strokeWidth":3,"strokeDash":[10,5,3,5],"point":{"filled":true,"shape":"circle","size":260,"fill":"#C9DEF4","stroke":"#1D5B68","strokeWidth":2.5}},
    "encoding":{"y":{"field":"v","type":"quantitative","scale":{"domain":[0,3],"nice":false,"zero":false},"axis":{"orient":"left","values":[0,0.5,1,1.5,2,2.5,3],"labelExpr":"datum.value % 1 === 0 ? format(datum.value, 'd') : ''","tickSize":{"condition":{"test":"datum.value % 1 !== 0","value":4},"value":7},"title":"⊖","titleColor":"#1D5B68","titleFont":"DejaVu Sans","titleFontWeight":"bold","titleFontSize":28,"titleY":185,"titlePadding":8}}}},
   {"data":{"name":"pts"},"transform":[{"filter":"datum.pid==='6012'&&datum.m==='sCD14'"}],
    "mark":{"type":"line","color":"#A31B1B","strokeWidth":3,"point":{"filled":true,"shape":"square","size":300,"fill":"#F5B56C","stroke":"#A31B1B","strokeWidth":2.5}},
    "encoding":{"y":{"field":"v","type":"quantitative","scale":{"domain":[4,7],"nice":false,"zero":false},"axis":{"orient":"right","values":[4,4.5,5,5.5,6,6.5,7],"labelExpr":"datum.value % 1 === 0 ? format(datum.value, 'd') : ''","tickSize":{"condition":{"test":"datum.value % 1 !== 0","value":4},"value":7},"title":"⊟","titleColor":"#A31B1B","titleFont":"DejaVu Sans","titleFontWeight":"bold","titleFontSize":28,"titleY":87,"titlePadding":16}}}},
   {"data":{"name":"ev"},"transform":[{"filter":"datum.pid==='6012'"}],"mark":{"type":"rule","color":"#111111","strokeWidth":2,"strokeDash":[7,5]},"encoding":{}},
   {"data":{"values":[{}]},"mark":{"type":"point","opacity":0},"encoding":{"y":{"datum":1,"type":"quantitative","scale":{"domain":[0,3]},"axis":{"orient":"left","domain":false,"ticks":false,"labels":false,"title":"sCD163 (log₁₀ ng/mL)","titleFontSize":30,"titleY":126,"titlePadding":73}}}},
   {"data":{"values":[{}]},"mark":{"type":"point","opacity":0},"encoding":{"y":{"datum":1,"type":"quantitative","scale":{"domain":[0,3]},"axis":{"orient":"left","domain":false,"ticks":false,"labels":false,"title":"sCD163","titleFontSize":20,"titleY":112,"titlePadding":31}}}},
   {"data":{"values":[{}]},"mark":{"type":"point","opacity":0},"encoding":{"y":{"datum":5,"type":"quantitative","scale":{"domain":[4,7]},"axis":{"orient":"right","domain":false,"ticks":false,"labels":false,"title":"sCD14","titleFontSize":20,"titleY":155,"titlePadding":38}}}},
   {"data":{"values":[{}]},"mark":{"type":"point","opacity":0},"encoding":{"y":{"datum":5,"type":"quantitative","scale":{"domain":[4,7]},"axis":{"orient":"right","domain":false,"ticks":false,"labels":false,"title":"sCD14 (log₁₀ ng/L)","titleFontSize":30,"titleY":132,"titlePadding":82}}}}
  ],
  "resolve":{"scale":{"y":"independent"}}}
 ]},
{"title":{"text":"6006","orient":"left","anchor":"end","frame":"group","angle":0,"align":"center","baseline":"alphabetic","offset":-427,"dy":-57,"font":"Open Sans","fontSize":60,"fontWeight":"normal","color":"#1a1a1a"},
 "bounds":"flush","spacing":115,
 "vconcat":[
 {"width":377,"height":278,
  "title":{"text":"e","orient":"left","anchor":"end","frame":"group","angle":0,"align":"left","baseline":"alphabetic","offset":-83,"dy":-70,"font":"Open Sans","fontSize":84,"fontWeight":"normal","color":"#1a1a1a"},
  "encoding":{"x":{"field":"day","type":"quantitative","scale":{"domain":[-5,150],"nice":false,"zero":false},"axis":{"values":[0,25,50,75,100,125,150],"title":null}}},
  "layer":[
   {"data":{"name":"pts"},"transform":[{"filter":"datum.pid==='6006'&&datum.m==='NfL'"}],
    "mark":{"type":"line","color":"#7B1FA2","strokeWidth":3,"point":{"filled":true,"shape":"circle","size":260,"fill":"#EBC6F3","stroke":"#7B1FA2","strokeWidth":2.5}},
    "encoding":{"y":{"field":"v","type":"quantitative","scale":{"domain":[2,5],"nice":false,"zero":false},"axis":{"orient":"left","values":[2,2.5,3,3.5,4,4.5,5],"labelExpr":"datum.value % 1 === 0 ? format(datum.value, 'd') : ''","tickSize":{"condition":{"test":"datum.value % 1 !== 0","value":4},"value":7},"title":"⊖","titleColor":"#7B1FA2","titleFont":"DejaVu Sans","titleFontWeight":"bold","titleFontSize":28,"titleY":208,"titlePadding":8}}}},
   {"data":{"name":"pts"},"transform":[{"filter":"datum.pid==='6006'&&datum.m==='QNPZ4'"}],
    "mark":{"type":"line","color":"#A8792E","strokeWidth":3,"strokeDash":[10,6],"point":{"filled":true,"shape":"diamond","size":230,"fill":"#F4E6C6","stroke":"#9C7030","strokeWidth":2.5}},
    "encoding":{"y":{"field":"v","type":"quantitative","scale":{"domain":[-4,2],"nice":false,"zero":false},"axis":{"orient":"right","values":[-4,-3.5,-3,-2.5,-2,-1.5,-1,-0.5,0,0.5,1,1.5,2],"labelExpr":"datum.value % 1 === 0 ? format(datum.value, 'd') : ''","tickSize":{"condition":{"test":"datum.value % 1 !== 0","value":4},"value":7},"title":"◇","titleColor":"#9C7030","titleFont":"DejaVu Sans","titleFontWeight":"bold","titleFontSize":28,"titleY":78,"titlePadding":5}}}},
   {"data":{"name":"ev"},"transform":[{"filter":"datum.pid==='6006'"}],"mark":{"type":"rule","color":"#111111","strokeWidth":2,"strokeDash":[7,5]},"encoding":{}},
   {"data":{"values":[{}]},"mark":{"type":"point","opacity":0},"encoding":{"y":{"datum":3,"type":"quantitative","scale":{"domain":[2,5]},"axis":{"orient":"left","domain":false,"ticks":false,"labels":false,"title":"NfL (log₁₀ ng/L)","titleFontSize":30,"titleY":118,"titlePadding":73}}}},
   {"data":{"values":[{}]},"mark":{"type":"point","opacity":0},"encoding":{"y":{"datum":3,"type":"quantitative","scale":{"domain":[2,5]},"axis":{"orient":"left","domain":false,"ticks":false,"labels":false,"title":"CSF NFL","titleFontSize":20,"titleY":131,"titlePadding":33}}}},
   {"data":{"values":[{}]},"mark":{"type":"point","opacity":0},"encoding":{"y":{"datum":0,"type":"quantitative","scale":{"domain":[-4,2]},"axis":{"orient":"right","domain":false,"ticks":false,"labels":false,"title":"QNPZ-4","titleFontSize":20,"titleY":145,"titlePadding":40}}}},
   {"data":{"values":[{}]},"mark":{"type":"point","opacity":0},"encoding":{"y":{"datum":0,"type":"quantitative","scale":{"domain":[-4,2]},"axis":{"orient":"right","domain":false,"ticks":false,"labels":false,"title":"QNPZ4","titleFontSize":30,"titleY":139,"titlePadding":77}}}}
  ],
  "resolve":{"scale":{"y":"independent"}}},
 {"width":375,"height":295,
  "encoding":{"x":{"field":"day","type":"quantitative","scale":{"domain":[-5,150],"nice":false,"zero":false},"axis":{"values":[0,25,50,75,100,125,150],"title":null}}},
  "layer":[
   {"data":{"name":"pts"},"transform":[{"filter":"datum.pid==='6006'&&datum.m==='sCD163'"}],
    "mark":{"type":"line","color":"#1D5B68","strokeWidth":3,"strokeDash":[10,5,3,5],"point":{"filled":true,"shape":"circle","size":260,"fill":"#C9DEF4","stroke":"#1D5B68","strokeWidth":2.5}},
    "encoding":{"y":{"field":"v","type":"quantitative","scale":{"domain":[0,3],"nice":false,"zero":false},"axis":{"orient":"left","values":[0,0.5,1,1.5,2,2.5,3],"labelExpr":"datum.value % 1 === 0 ? format(datum.value, 'd') : ''","tickSize":{"condition":{"test":"datum.value % 1 !== 0","value":4},"value":7},"title":"⊖","titleColor":"#1D5B68","titleFont":"DejaVu Sans","titleFontWeight":"bold","titleFontSize":28,"titleY":198,"titlePadding":7}}}},
   {"data":{"name":"pts"},"transform":[{"filter":"datum.pid==='6006'&&datum.m==='sCD14'"}],
    "mark":{"type":"line","color":"#A31B1B","strokeWidth":3,"point":{"filled":true,"shape":"square","size":300,"fill":"#F5B56C","stroke":"#A31B1B","strokeWidth":2.5}},
    "encoding":{"y":{"field":"v","type":"quantitative","scale":{"domain":[4,7],"nice":false,"zero":false},"axis":{"orient":"right","values":[4,4.5,5,5.5,6,6.5,7],"labelExpr":"datum.value % 1 === 0 ? format(datum.value, 'd') : ''","tickSize":{"condition":{"test":"datum.value % 1 !== 0","value":4},"value":7},"title":"⊟","titleColor":"#A31B1B","titleFont":"DejaVu Sans","titleFontWeight":"bold","titleFontSize":28,"titleY":103,"titlePadding":10}}}},
   {"data":{"name":"ev"},"transform":[{"filter":"datum.pid==='6006'"}],"mark":{"type":"rule","color":"#111111","strokeWidth":2,"strokeDash":[7,5]},"encoding":{}},
   {"data":{"values":[{}]},"mark":{"type":"point","opacity":0},"encoding":{"y":{"datum":1,"type":"quantitative","scale":{"domain":[0,3]},"axis":{"orient":"left","domain":false,"ticks":false,"labels":false,"title":"sCD163 (log₁₀ ng/ml)","titleFontSize":30,"titleY":133,"titlePadding":71}}}},
   {"data":{"values":[{}]},"mark":{"type":"point","opacity":0},"encoding":{"y":{"datum":1,"type":"quantitative","scale":{"domain":[0,3]},"axis":{"orient":"left","domain":false,"ticks":false,"labels":false,"title":"sCD163","titleFontSize":20,"titleY":121,"titlePadding":30}}}},
   {"data":{"values":[{}]},"mark":{"type":"point","opacity":0},"encoding":{"y":{"datum":5,"type":"quantitative","scale":{"domain":[4,7]},"axis":{"orient":"right","domain":false,"ticks":false,"labels":false,"title":"sCD14","titleFontSize":20,"titleY":174,"titlePadding":35}}}},
   {"data":{"values":[{}]},"mark":{"type":"point","opacity":0},"encoding":{"y":{"datum":5,"type":"quantitative","scale":{"domain":[4,7]},"axis":{"orient":"right","domain":false,"ticks":false,"labels":false,"title":"sCD14 (log₁₀ ng/L)","titleFontSize":30,"titleY":139,"titlePadding":75}}}}
  ],
  "resolve":{"scale":{"y":"independent"}}}
 ]}
],"spacing":600,"bounds":"flush"}
],
"config":{
 "view":{"stroke":null},
 "axis":{"grid":false,"domainColor":"#111111","domainWidth":1.6,"tickColor":"#111111","tickWidth":1.6,"tickSize":7,"labelFont":"Liberation Sans Narrow, Liberation Sans, Arial, sans-serif","labelFontWeight":"bold","labelFontSize":21,"labelColor":"#111111","labelPadding":2,"labelFlush":false,"labelOverlap":false,"minExtent":0,"maxExtent":300,"titleFont":"Liberation Sans, Arial, DejaVu Sans, sans-serif","titleFontWeight":"bold","titleColor":"#111111"},
 "axisY":{"minExtent":0},
 "axisX":{"labelPadding":3}
}
}
